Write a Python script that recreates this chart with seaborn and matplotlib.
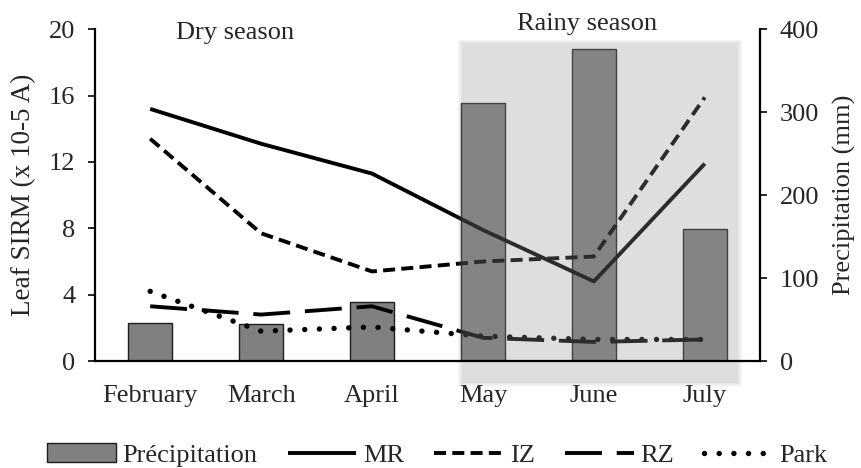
import matplotlib
matplotlib.use("Agg")
import matplotlib.pyplot as plt
from matplotlib.patches import Rectangle
import seaborn as sns

# Monthly values
months = ["February", "March", "April", "May", "June", "July"]
precipitation = [46, 45, 71, 311, 376, 159]          # mm
sirm_mr = [15.2, 13.1, 11.3, 7.9, 4.8, 11.9]          # x 10-5 A
sirm_iz = [13.4, 7.7, 5.4, 6.0, 6.3, 15.9]
sirm_rz = [3.3, 2.8, 3.3, 1.4, 1.15, 1.3]
sirm_park = [4.2, 1.8, 2.05, 1.5, 1.3, 1.3]

sns.set_style("ticks")
plt.rcParams["font.family"] = ["Liberation Serif", "DejaVu Serif"]
plt.rcParams["font.size"] = 19

fig = plt.figure(figsize=(8.61, 4.68), dpi=100)
ax = fig.add_axes([0.110, 0.2286, 0.773, 0.7088])
ax2 = ax.twinx()

# Precipitation bars on the right axis
sns.barplot(x=months, y=precipitation, ax=ax2, color="#808080", saturation=1,
            edgecolor="#1e1e1e", linewidth=1.0, width=0.4, label="Précipitation")

# Leaf SIRM lines on the left axis
lw = 2.8
series = [
    ("MR", sirm_mr, dict(linestyle="-", lw=lw, solid_capstyle="butt")),
    ("IZ", sirm_iz, dict(linestyle=(0, (3.1, 1.6)), lw=lw)),
    ("RZ", sirm_rz, dict(linestyle=(0, (9.5, 3.8)), lw=lw)),
    ("Park", sirm_park, dict(linestyle=(0, (0.01, 2.7)), lw=3.9,
                             dash_capstyle="round")),
]
for name, vals, kw in series:
    sns.lineplot(x=months, y=vals, ax=ax, color="black", label=name, **kw)
if ax.get_legend() is not None:
    ax.get_legend().remove()
if ax2.get_legend() is not None:
    ax2.get_legend().remove()

ax.set_zorder(ax2.get_zorder() + 1)
ax.patch.set_visible(False)

ax.set_xlim(-0.5, 5.5)
ax.set_ylim(0, 20)
ax.set_yticks([0, 4, 8, 12, 16, 20])
ax2.set_ylim(0, 400)
ax2.set_yticks([0, 100, 200, 300, 400])

ax.set_ylabel("Leaf SIRM (x 10-5 A)", fontsize=19.5, labelpad=9)
ax2.set_ylabel("Precipitation (mm)", fontsize=19, labelpad=10)
ax.set_xlabel("")
ax2.set_xlabel("")

for a in (ax, ax2):
    for s in a.spines.values():
        s.set_linewidth(1.6)
        s.set_color("black")
    a.spines["top"].set_visible(False)
ax.spines["right"].set_visible(False)
ax2.spines["left"].set_visible(False)
ax2.spines["bottom"].set_visible(False)

ax.tick_params(axis="y", direction="out", length=5, width=1.4, pad=9, labelsize=19)
ax.tick_params(axis="x", length=0, pad=17, labelsize=19)
ax2.tick_params(axis="y", direction="out", length=5, width=1.4, pad=9, labelsize=19)

# Rainy-season shading with soft edges
layers = 4
for i in range(layers):
    dx = 0.012 * i
    dy = 0.07 * i
    ax.add_patch(Rectangle((2.81 - dx, -1.33 - dy), (5.30 - 2.81) + 2 * dx,
                           (19.15 + 1.33) + 2 * dy, transform=ax.transData,
                           facecolor="#979797", edgecolor="none", alpha=0.085,
                           clip_on=False, zorder=2.4))

fig.text(235 / 861, 1 - 33 / 468, "Dry season", ha="center", va="center", fontsize=19)
fig.text(587 / 861, 1 - 24 / 468, "Rainy season", ha="center", va="center", fontsize=19)

h2, l2 = ax2.get_legend_handles_labels()
h1, l1 = ax.get_legend_handles_labels()
fig.legend(h2 + h1, l2 + l1, loc="center", bbox_to_anchor=(0.508, 1 - 455 / 468),
           ncol=5, frameon=False, fontsize=19, handlelength=2.6, handletextpad=0.25,
           columnspacing=1.15, borderaxespad=0)

fig.savefig("out.png", dpi=100)
